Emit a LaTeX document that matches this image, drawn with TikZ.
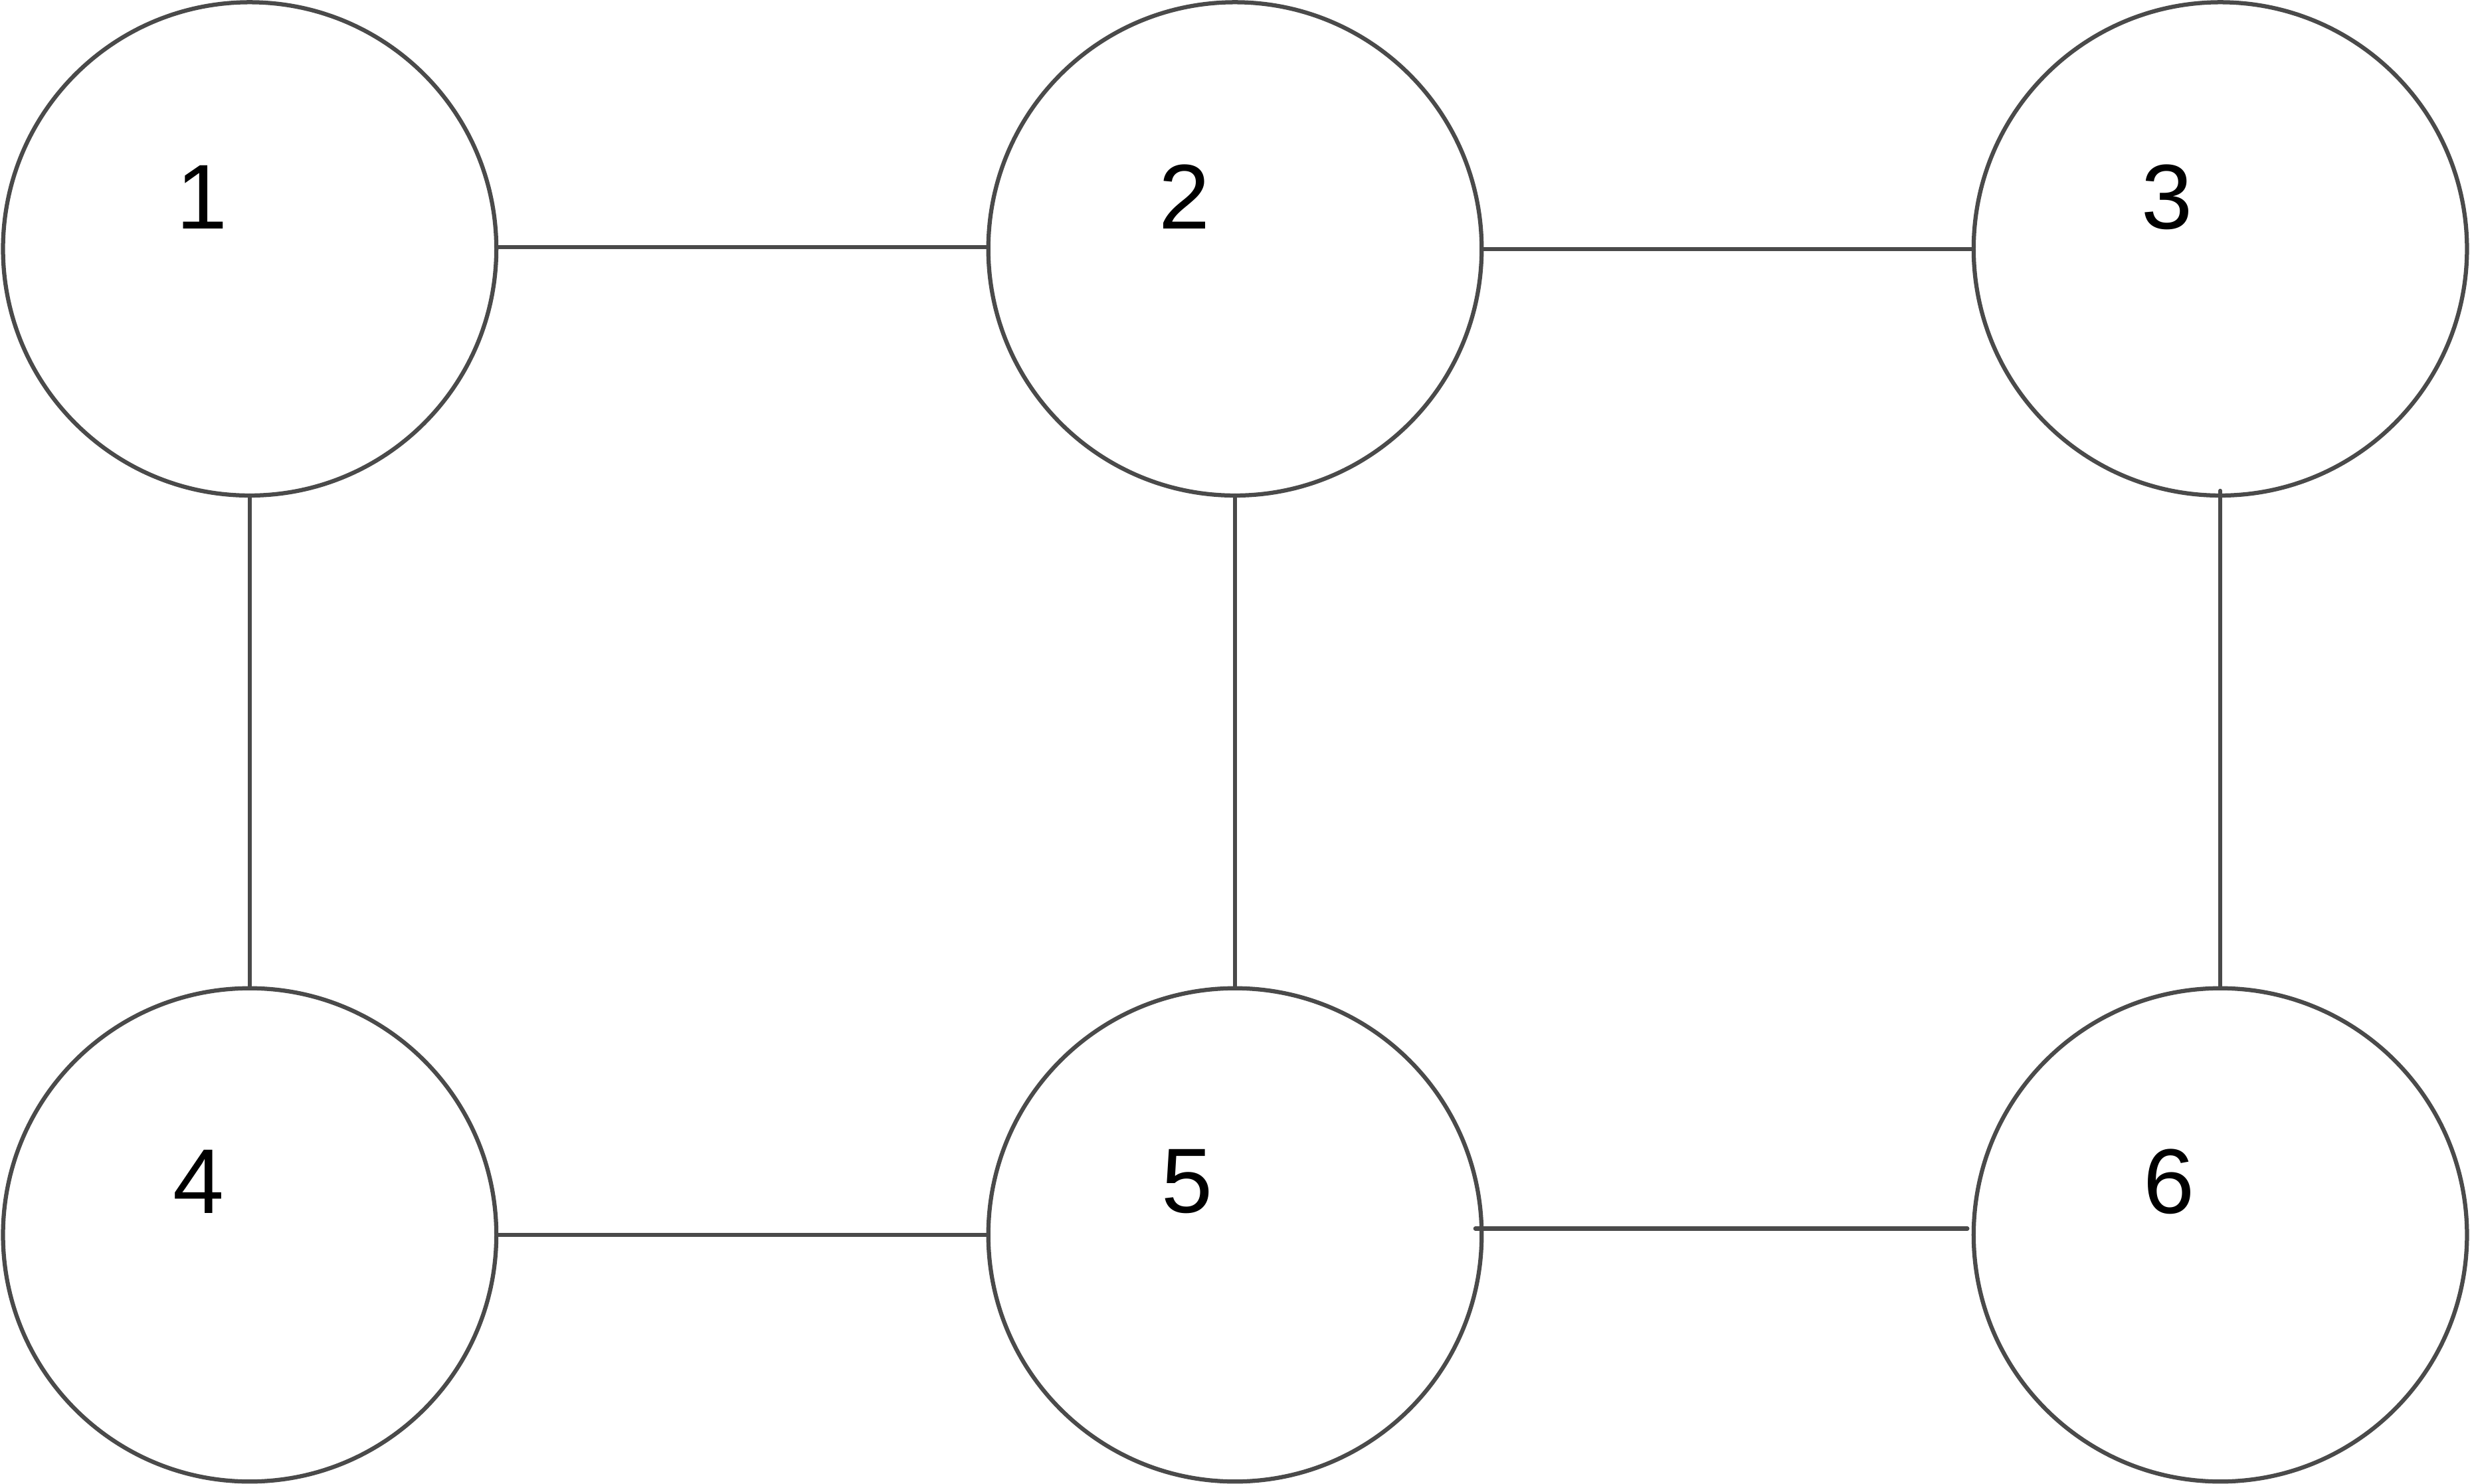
\documentclass[tikz,border=0pt]{standalone}
\usepackage{fontspec}
\setmainfont{Liberation Sans}
\definecolor{edgegray}{HTML}{4A4A4A}
\begin{document}
\begin{tikzpicture}[x=0.01cm,y=-0.01cm,
  vert/.style={circle,draw=edgegray,line width=0.75pt,minimum size=3.13cm,inner sep=0pt,outer sep=0pt},
  lbl/.style={inner sep=0pt,font=\fontsize{16.6pt}{20pt}\selectfont},
  edge/.style={draw=edgegray,line width=0.75pt,line cap=round}]
\useasboundingbox (0,0) rectangle (1568,942);
\node[vert] (n1) at (158.5,158) {};
\node[vert] (n2) at (784,158) {};
\node[vert] (n3) at (1409.5,158) {};
\node[vert] (n4) at (158.5,784) {};
\node[vert] (n5) at (784,784) {};
\node[vert] (n6) at (1409.5,784) {};
\node[lbl] (l1) at (128,125) {1};
\node[lbl] (l2) at (752,125) {2};
\node[lbl] (l3) at (1375.5,125) {3};
\node[lbl] (l4) at (126,750) {4};
\node[lbl] (l5) at (753.5,750) {5};
\node[lbl] (l6) at (1377,750) {6};
\draw[edge] ([yshift=0.01cm]n1.east) -- ([yshift=0.01cm]n2.west);
\draw[edge] (n2.east) -- (n3.west);
\draw[edge] (n1.south) -- (n4.north);
\draw[edge] (n2.south) -- (n5.north);
\draw[edge] ([yshift=0.03cm]n3.south) -- (n6.north);
\draw[edge] (n4.east) -- (n5.west);
\draw[edge] ([shift={(-4,-4)}]n5.east) -- ([shift={(-4,-4)}]n6.west);
\end{tikzpicture}
\end{document}
